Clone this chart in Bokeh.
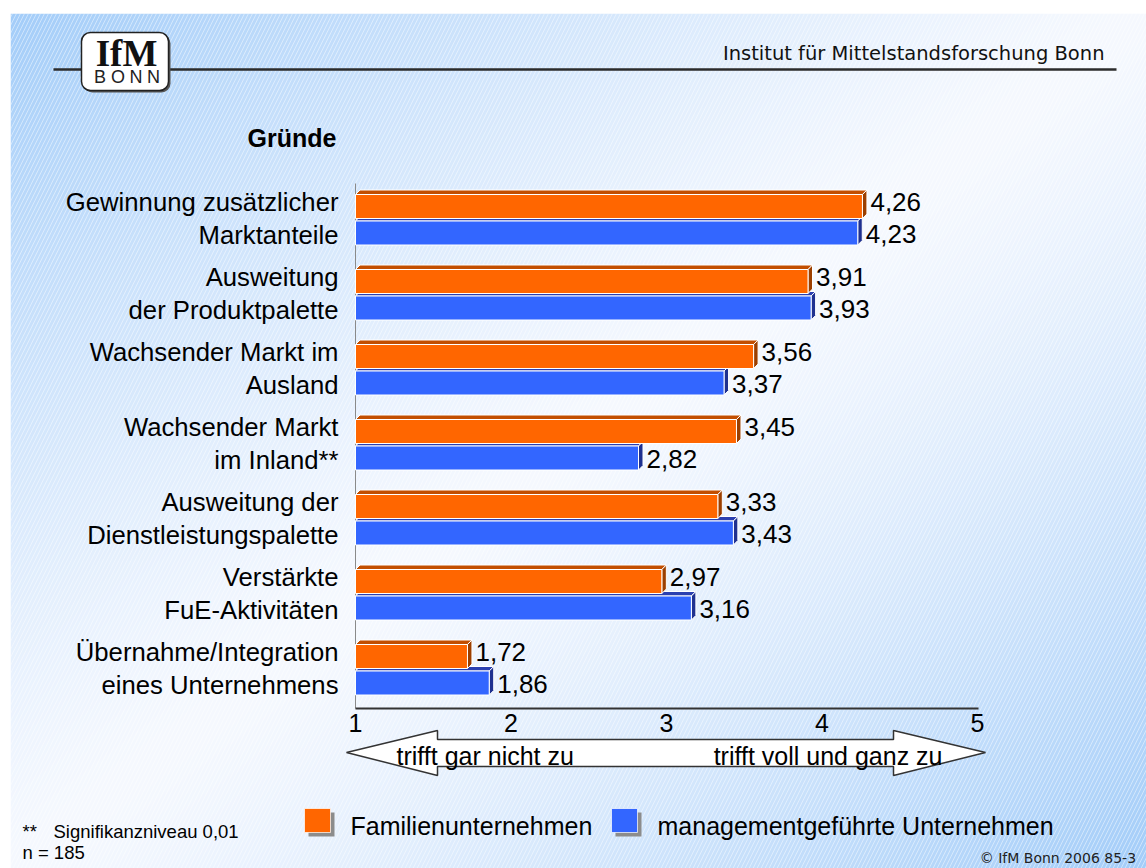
import numpy as np
from bokeh.plotting import figure
from bokeh.models import Range1d, ColumnDataSource
from bokeh.core.properties import value
from bokeh.embed import file_html
from bokeh.resources import INLINE

# ---------------- data ----------------
cat_line1 = ["Gewinnung zusätzlicher", "Ausweitung", "Wachsender Markt im",
             "Wachsender Markt", "Ausweitung der", "Verstärkte", "Übernahme/Integration"]
cat_line2 = ["Marktanteile", "der Produktpalette", "Ausland", "im Inland**",
             "Dienstleistungspalette", "FuE-Aktivitäten", "eines Unternehmens"]
familien = [4.26, 3.91, 3.56, 3.45, 3.33, 2.97, 1.72]
management = [4.23, 3.93, 3.37, 2.82, 3.43, 3.16, 1.86]
tick_values = [1, 2, 3, 4, 5]
tick_labels = ["1", "2", "3", "4", "5"]
series_names = ["Familienunternehmen", "managementgeführte Unternehmen"]
scale_labels = ["trifft gar nicht zu", "trifft voll und ganz zu"]

# ---------------- layout helpers (picture pixels -> data) ----------------
W, H = 1146, 868
PX_PER_UNIT = 155.5
X_ONE = 355.0
def X(px):
    return 1 + (px - X_ONE) / PX_PER_UNIT
def Y(py):
    return H - py

ARIAL = value("Liberation Sans")
TAHOMA = value("DejaVu Sans")

p = figure(width=W, height=H, x_range=Range1d(X(0), X(W)),
           y_range=Range1d(0, H), min_border=0, output_backend="svg",
           toolbar_location=None)
p.axis.visible = False
p.xgrid.visible = False
p.ygrid.visible = False
p.outline_line_color = None
p.background_fill_color = "white"
p.border_fill_color = "white"

# ---------------- background gradient ----------------
BX0, BY0 = 10, 13
nx, ny = 568, 428
bw, bh = W - BX0, H - BY0
xs_px = BX0 + (np.arange(nx) + 0.5) * (bw / nx)
ys_px = H - (np.arange(ny) + 0.5) * (bh / ny)
U, V = np.meshgrid((xs_px - BX0) / bw, (ys_px - BY0) / bh)
tt = (U + V) / 2
s = np.abs(2 * tt - 1)
f = np.clip(s, 0, 1) ** 1.25
blue = np.array([163, 205, 249])
white = np.array([246, 249, 255])
img = np.empty((ny, nx), dtype=np.uint32)
view = img.view(dtype=np.uint8).reshape((ny, nx, 4))
for k in range(3):
    view[:, :, k] = (white[k] + (blue[k] - white[k]) * f).astype(np.uint8)
view[:, :, 3] = 255
p.image_rgba(image=[img], x=X(BX0), y=Y(H), dw=X(W) - X(BX0), dh=bh)
p.quad(left=X(BX0), right=X(W), top=Y(BY0), bottom=Y(H), fill_alpha=0,
       line_alpha=0, hatch_pattern="/", hatch_color="white", hatch_alpha=0.45,
       hatch_scale=8, hatch_weight=1)

# ---------------- header ----------------
p.segment(x0=X(53), y0=Y(69), x1=X(1116), y1=Y(69), line_color="#2b2b2b", line_width=2.5)
p.quad(left=X(83), right=X(170), top=Y(34), bottom=Y(92), fill_color="#555555",
       line_color=None, border_radius=9)
p.quad(left=X(81), right=X(168), top=Y(32), bottom=Y(90), fill_color="white",
       line_color="#222222", line_width=1.5, border_radius=9)
p.text(x=[X(126)], y=[Y(53)], text=["IfM"], text_font=value("Liberation Serif"),
       text_font_style="bold", text_font_size="37px", text_align="center",
       text_baseline="middle", text_color="#111111")
p.text(x=[X(99.5), X(117.5), X(135.5), X(153)], y=[Y(76.5)] * 4, text=list("BONN"),
       text_font=ARIAL, text_font_size="18px", text_align="center",
       text_baseline="middle", text_color="#222222")
p.text(x=[X(1104)], y=[Y(53)], text=["Institut für Mittelstandsforschung Bonn"],
       text_font=TAHOMA, text_font_size="19.5px", text_align="right",
       text_baseline="middle", text_color="#111111")

# ---------------- chart ----------------
G0, PITCH, BAR_H, GAP, D = 194.0, 75.0, 24.0, 2.5, 4.5
DX = D / PX_PER_UNIT
n = len(familien)
or_top = [G0 + PITCH * i for i in range(n)]
bl_top = [t0 + BAR_H + GAP for t0 in or_top]

# axes lines
p.segment(x0=X(355), y0=Y(183), x1=X(355), y1=Y(708), line_color="#8a8a8a", line_width=1)
p.segment(x0=X(355), y0=Y(708), x1=X(978), y1=Y(708), line_color="#333333", line_width=2)

def draw_bars(vals, tops, front, dark_top, dark_side, label_shift):
    top_xs, top_ys, side_xs, side_ys = [], [], [], []
    for v, tp in zip(vals, tops):
        bt = tp + BAR_H
        top_xs.append([1, 1 + DX, v + DX, v])
        top_ys.append([Y(tp), Y(tp - D), Y(tp - D), Y(tp)])
        side_xs.append([v, v + DX, v + DX, v])
        side_ys.append([Y(tp), Y(tp - D), Y(bt - D), Y(bt)])
    p.patches(xs=top_xs, ys=top_ys, fill_color=dark_top, line_color="white", line_width=1)
    p.patches(xs=side_xs, ys=side_ys, fill_color=dark_side, line_color="white", line_width=1)
    src = ColumnDataSource(dict(left=[1] * len(vals), right=vals,
                                top=[Y(tp) for tp in tops],
                                bottom=[Y(tp + BAR_H) for tp in tops]))
    p.quad(left="left", right="right", top="top", bottom="bottom", source=src,
           fill_color=front, line_color="white", line_width=1)
    lab = ColumnDataSource(dict(x=[v + DX + 3.5 / PX_PER_UNIT for v in vals],
                                y=[Y(tp + BAR_H / 2 + label_shift) for tp in tops],
                                t=[f"{v:.2f}".replace(".", ",") for v in vals]))
    p.text(x="x", y="y", text="t", source=lab, text_font=ARIAL, text_font_size="26px",
           text_align="left", text_baseline="middle", text_color="black")

draw_bars(management, bl_top, "#3366ff", "#2a3fb0", "#1f3190", 0.5)
draw_bars(familien, or_top, "#ff6600", "#c24e00", "#9c3f00", -4.5)

# category labels
cl = ColumnDataSource(dict(x=[X(338)] * n, y1=[Y(201 + PITCH * i) for i in range(n)],
                           y2=[Y(234 + PITCH * i) for i in range(n)],
                           t1=cat_line1, t2=cat_line2))
for yk, tk in (("y1", "t1"), ("y2", "t2")):
    p.text(x="x", y=yk, text=tk, source=cl, text_font=ARIAL, text_font_size="25.7px",
           text_align="right", text_baseline="middle", text_color="black")
p.text(x=[X(336)], y=[Y(137)], text=["Gründe"], text_font=ARIAL, text_font_style="bold",
       text_font_size="25px", text_align="right", text_baseline="middle", text_color="black")

# tick labels
p.text(x=tick_values, y=[Y(722)] * len(tick_values), text=tick_labels, text_font=ARIAL,
       text_font_size="25px", text_align="center", text_baseline="middle", text_color="black")

# double arrow
p.patch(x=[X(346), X(437), X(437), X(893), X(893), X(985), X(893), X(893), X(437), X(437)],
        y=[Y(752), Y(730), Y(739), Y(739), Y(730), Y(752), Y(775), Y(766), Y(766), Y(775)],
        fill_color="white", line_color="#333333", line_width=1.5)
p.text(x=[X(396)], y=[Y(755)], text=[scale_labels[0]], text_font=ARIAL, text_font_size="25px",
       text_align="left", text_baseline="middle", text_color="black")
p.text(x=[X(942)], y=[Y(755)], text=[scale_labels[1]], text_font=ARIAL, text_font_size="25px",
       text_align="right", text_baseline="middle", text_color="black")

# legend
leg_x = [304, 611]
leg_cols = ["#ff6600", "#3366ff"]
for lx, col, name in zip(leg_x, leg_cols, series_names):
    p.quad(left=X(lx + 4), right=X(lx + 30), top=Y(812), bottom=Y(836),
           fill_color="#8c8c8c", line_color=None)
    p.quad(left=X(lx), right=X(lx + 26), top=Y(808), bottom=Y(832),
           fill_color=col, line_color="white", line_alpha=0.7, line_width=1)
    p.text(x=[X(lx + 46)], y=[Y(825)], text=[name], text_font=ARIAL, text_font_size="25px",
           text_align="left", text_baseline="middle", text_color="black")

# footnotes
p.text(x=[X(22), X(53)], y=[Y(831), Y(831)], text=["**", "Signifikanzniveau 0,01"],
       text_font=ARIAL, text_font_size="18.5px", text_align="left", text_baseline="middle",
       text_color="black")
p.text(x=[X(22)], y=[Y(852)], text=["n = 185"], text_font=ARIAL, text_font_size="18.5px",
       text_align="left", text_baseline="middle", text_color="black")
p.text(x=[X(1140)], y=[Y(857)], text=["© IfM Bonn 2006  85-3"], text_font=TAHOMA,
       text_font_size="14px", text_align="right", text_baseline="middle",
       text_color="#222222")

# white margin strips of the reference
p.quad(left=X(0), right=X(W), top=Y(0), bottom=Y(BY0), fill_color="white", line_color=None)
p.quad(left=X(0), right=X(BX0), top=Y(0), bottom=Y(H), fill_color="white", line_color=None)

open("out.html", "w").write(file_html(p, INLINE))
